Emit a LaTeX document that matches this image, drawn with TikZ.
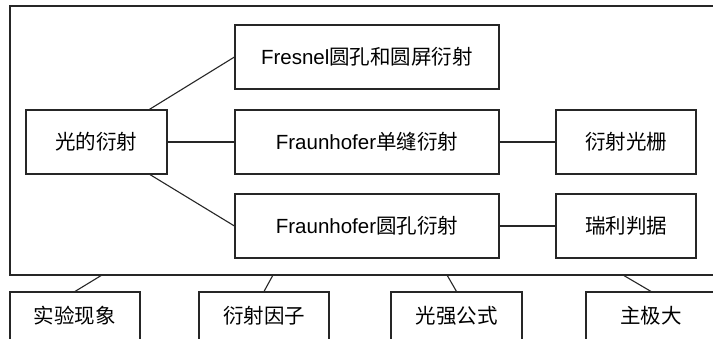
\documentclass[tikz,border=0pt]{standalone}
\usepackage{fontspec}
\setmainfont{Liberation Sans}
\newfontfamily\cjk{Noto Sans CJK SC}
\tikzset{
  box/.style={draw=black!85, line width=1.1pt, rectangle, inner sep=0pt, font=\fontsize{20.5}{24}\selectfont},
  link/.style={draw=black!85, line width=1.1pt},
}
\begin{document}
\begin{tikzpicture}[x=1pt,y=-1pt]
\useasboundingbox (0,0) rectangle (713,338);
\clip (0,0) rectangle (713,338);
\fill[white] (0,0) rectangle (713,338);
% outer frame
\draw[link] (10,6) rectangle (730,275);
% top-level nodes
\node[box, minimum width=141pt, minimum height=64pt] (gy) at (96.5,142) {\cjk 光的衍射};
\node[box, minimum width=264pt, minimum height=64pt] (fr) at (367,57) {Fresnel{\cjk 圆孔和圆屏衍射}};
\node[box, minimum width=264pt, minimum height=64pt] (fd) at (367,142) {Fraunhofer{\cjk 单缝衍射}};
\node[box, minimum width=264pt, minimum height=64pt] (fy) at (367,226) {Fraunhofer{\cjk 圆孔衍射}};
\node[box, minimum width=140pt, minimum height=64pt] (sg) at (626,142) {\cjk 衍射光栅};
\node[box, minimum width=140pt, minimum height=64pt] (rl) at (626,226) {\cjk 瑞利判据};
% bottom nodes
\node[box, minimum width=130pt, minimum height=48pt] (b1) at (75,316) {\cjk 实验现象};
\node[box, minimum width=130pt, minimum height=48pt] (b2) at (264,316) {\cjk 衍射因子};
\node[box, minimum width=131pt, minimum height=48pt] (b3) at (456.5,316) {\cjk 光强公式};
\node[box, minimum width=130pt, minimum height=48pt] (b4) at (651,316) {\cjk 主极大};
% frame attachment points
\coordinate (o1) at (102,275);
\coordinate (o2) at (273,275);
\coordinate (o3) at (447,275);
\coordinate (o4) at (623,275);
% connectors
\draw[link] (gy) -- (fr.west);
\draw[link] (gy) -- (fd.west);
\draw[link] (gy) -- (fy.west);
\draw[link] (fd.east) -- (sg.west);
\draw[link] (fy.east) -- (rl.west);
\draw[link] (o1) -- (b1.north);
\draw[link] (o2) -- (b2.north);
\draw[link] (o3) -- (b3.north);
\draw[link] (o4) -- (b4.north);
\end{tikzpicture}
\end{document}
